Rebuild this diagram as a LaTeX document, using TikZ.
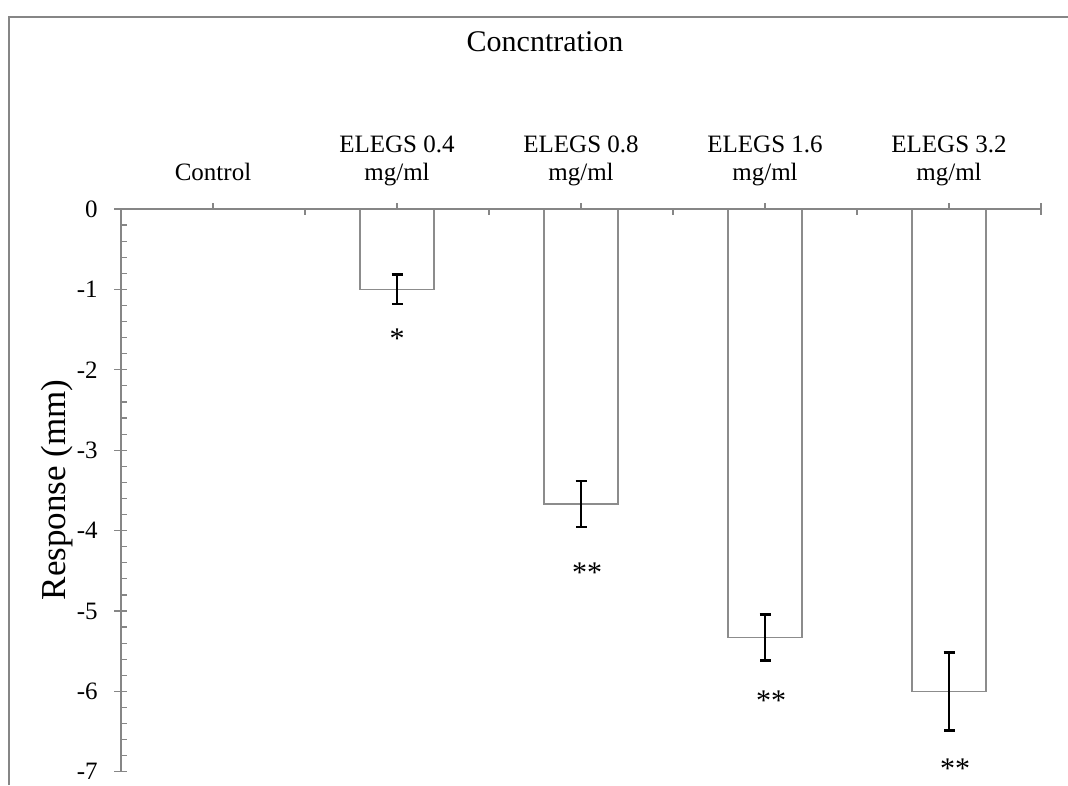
\documentclass[tikz,border=0pt]{standalone}
\usepackage{fontspec}
\setmainfont{Liberation Serif}
\usetikzlibrary{arrows.meta,positioning}
\definecolor{axisgray}{RGB}{134,134,134}
\definecolor{bargray}{RGB}{140,140,140}

\begin{document}
\begin{tikzpicture}[
    x=0.5pt, y=-0.5pt,
    frame/.style={draw=axisgray, line width=0.7pt},
    axisline/.style={draw=axisgray, line width=0.75pt},
    tickline/.style={draw=axisgray, line width=0.6pt},
    bar/.style={draw=bargray, fill=white, line width=0.75pt},
    errbar/.style={{Bar[width=5.5pt]}-{Bar[width=5.5pt]}, line width=1.2pt, black},
    catlabel/.style={font=\fontsize{12.5}{15}\selectfont, anchor=base, inner sep=0pt},
    ticklabel/.style={font=\fontsize{12.5}{15}\selectfont, anchor=east, inner sep=0pt},
    starlabel/.style={font=\fontsize{15}{18}\selectfont, anchor=base, inner sep=0pt}
]
    \useasboundingbox (0,0) rectangle (1068,785);
    % chart frame
    \draw[frame] (9,785) -- (9,17) -- (1068,17);

    \node[font=\fontsize{15}{18}\selectfont, anchor=base, inner sep=0pt] (title) at (545,52) {Concntration};
    \node[font=\fontsize{17.5}{20}\selectfont, rotate=90, inner sep=0pt] (ylabel) at (57,490) {Response (mm)};

    % data area: one x unit = half a category, one y unit = 1 mm
    \begin{scope}[shift={(121,209)}, x=46pt, y=40.2pt]
        % bars
        \draw[bar] (2.598,0) rectangle (3.402,-1);
        \draw[bar] (4.598,0) rectangle (5.402,-3.67);
        \draw[bar] (6.598,0) rectangle (7.402,-5.33);
        \draw[bar] (8.598,0) rectangle (9.402,-6);

        % axes
        \draw[axisline] (-0.076,0) -- (10,0);
        \draw[axisline] (0,0) -- (0,-7);
        \foreach \i in {1,...,35}
            \draw[tickline] (0,-\i/5) -- (0.065,-\i/5);
        \foreach \v [count=\i] in {0,-1,...,-7} {
            \draw[tickline] (-0.076,\v) -- (0.065,\v);
            \node[ticklabel] (ytick\i) at (-0.25,\v) {\v};
        }
        \foreach \c in {0,2,...,10}
            \draw[tickline] (\c,0) -- (\c,-0.075);
        \foreach \c in {1,3,...,9}
            \draw[tickline] (\c,0) -- (\c,0.075);
        \draw[tickline] (10,0) -- (10,0.075);

        % category labels
        \node[catlabel] (control) at (1,0.36) {Control};
        \node[catlabel] (cat1) at (3,0.697) {ELEGS 0.4};
        \node[catlabel] (unit1) at (3,0.36) {mg/ml};
        \node[catlabel] (cat2) at (5,0.697) {ELEGS 0.8};
        \node[catlabel] (unit2) at (5,0.36) {mg/ml};
        \node[catlabel] (cat3) at (7,0.697) {ELEGS 1.6};
        \node[catlabel] (unit3) at (7,0.36) {mg/ml};
        \node[catlabel] (cat4) at (9,0.697) {ELEGS 3.2};
        \node[catlabel] (unit4) at (9,0.36) {mg/ml};

        % error bars
        \draw[errbar] (3,-0.8) -- (3,-1.2);
        \draw[errbar] (5,-3.37) -- (5,-3.97);
        \draw[errbar] (7,-5.03) -- (7,-5.63);
        \draw[errbar] (9,-5.5) -- (9,-6.5);

        % significance marks
        \node[starlabel] (sig1) at (3,-1.74) {*};
        \node[starlabel, xshift=3pt] (sig2) at (5,-4.64) {**};
        \node[starlabel, xshift=3pt] (sig3) at (7,-6.24) {**};
        \node[starlabel, xshift=3pt] (sig4) at (9,-7.08) {**};
    \end{scope}
\end{tikzpicture}
\end{document}
